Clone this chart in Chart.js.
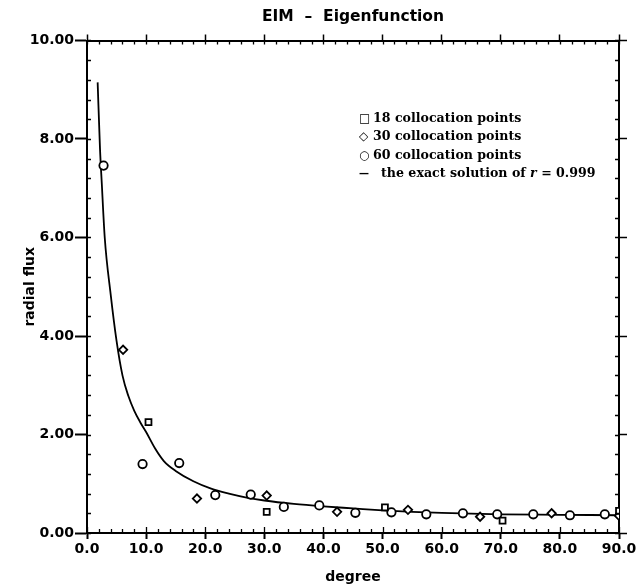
<!DOCTYPE html>
<html>
<head>
<meta charset="utf-8">
<script src="https://cdn.jsdelivr.net/npm/chart.js@4"></script>
<style>
    html, body { margin: 0; padding: 0; background: #fff; }
    #wrap { position: relative; width: 643px; height: 586px; }
    #legend {
        position: absolute; left: 359px; top: 109px;
        font-family: "DejaVu Serif", serif; font-weight: bold; font-size: 12.6px;
        color: #000; line-height: 17.3px; white-space: nowrap;
    }
    #legend .mk { display: inline-block; width: 14px; font-family: "DejaVu Sans"; font-size: 12px; }
    #legend .mk.dash { width: 22px; font-size: 10px; }
</style>
</head>
<body>
<div id="wrap">
    <canvas id="fluxChart" width="643" height="586"></canvas>
    <div id="legend"></div>
</div>
<script>
// exact solution
const exactX = [1.8, 2.2, 2.5, 3.0, 4.0, 5.0, 6.0, 7.0, 8.0, 9.0, 10.0, 11.5, 13.0, 15.0, 18.0, 21.0, 24.0, 27.0, 30.0, 35.0, 40.0, 45.0, 50.0, 55.0, 60.0, 70.0, 80.0, 90.0];
const exactY = [9.15, 7.8, 7.1, 6.0, 4.85, 3.9, 3.2, 2.78, 2.48, 2.25, 2.05, 1.72, 1.46, 1.26, 1.05, 0.9, 0.8, 0.72, 0.66, 0.59, 0.54, 0.5, 0.46, 0.43, 0.41, 0.38, 0.37, 0.36];

// 18 collocation points (squares)
const pts18X = [10.4, 30.4, 50.4, 70.3, 90.0];
const pts18Y = [2.25, 0.43, 0.52, 0.25, 0.45];

// 30 collocation points (diamonds)
const pts30X = [6.1, 18.6, 30.4, 42.3, 54.3, 66.5, 78.6, 90.0];
const pts30Y = [3.72, 0.70, 0.76, 0.43, 0.47, 0.33, 0.40, 0.35];

// 60 collocation points (circles)
const pts60X = [2.8, 9.4, 15.6, 21.7, 27.7, 33.3, 39.3, 45.4, 51.5, 57.4, 63.6, 69.4, 75.5, 81.7, 87.6];
const pts60Y = [7.46, 1.40, 1.42, 0.77, 0.78, 0.53, 0.56, 0.41, 0.42, 0.38, 0.40, 0.38, 0.38, 0.36, 0.38];

const xTicks = { min: 0, max: 90, major: 10, minor: 2 };
const yTicks = { min: 0, max: 10, major: 2, minor: 0.4 };

const chartTitle = 'EIM  \u2013  Eigenfunction';
const xTitle = 'degree';
const yTitle = 'radial flux';
const seriesLabels = ['18 collocation points', '30 collocation points', '60 collocation points', 'the exact solution of '];

function toPoints(xs, ys) {
    return xs.map(function(x, i) { return { x: x, y: ys[i] }; });
}

const tickFont = { family: 'DejaVu Sans', weight: 'bold', size: 14 };

function markerSet(style) {
    return {
        type: 'scatter',
        pointStyle: style,
        pointRadius: 4.2,
        pointBorderWidth: 1.8,
        pointBorderColor: '#000',
        pointBackgroundColor: '#fff',
        showLine: false,
    };
}

// minor ticks drawn on the inside of all four sides of the frame
const minorTicks = {
    id: 'minorTicks',
    afterDraw(chart) {
        const ctx = chart.ctx;
        const a = chart.chartArea;
        const sx = chart.scales.x, sy = chart.scales.y;
        ctx.save();
        ctx.strokeStyle = '#000';
        ctx.lineWidth = 1.3;
        ctx.beginPath();
        for (let v = xTicks.min; v <= xTicks.max + 1e-6; v += xTicks.minor) {
            const px = Math.round(sx.getPixelForValue(v)) + 0.5;
            const len = Math.abs(v % xTicks.major) < 1e-6 ? 6 : 4;
            ctx.moveTo(px, a.bottom); ctx.lineTo(px, a.bottom - len);
            ctx.moveTo(px, a.top); ctx.lineTo(px, a.top + 4);
        }
        for (let v = yTicks.min; v <= yTicks.max + 1e-6; v += yTicks.minor) {
            const py = Math.round(sy.getPixelForValue(v)) + 0.5;
            ctx.moveTo(a.left, py); ctx.lineTo(a.left + 4, py);
            ctx.moveTo(a.right, py); ctx.lineTo(a.right - 4, py);
        }
        ctx.stroke();
        ctx.restore();
    }
};

const ctx = document.getElementById('fluxChart').getContext('2d');
const fluxChart = new Chart(ctx, {
    data: {
        datasets: [
            Object.assign({ label: seriesLabels[0], data: toPoints(pts18X, pts18Y) }, markerSet('rect')),
            Object.assign({ label: seriesLabels[1], data: toPoints(pts30X, pts30Y) }, markerSet('rectRot')),
            Object.assign({ label: seriesLabels[2], data: toPoints(pts60X, pts60Y) }, markerSet('circle')),
            {
                type: 'line',
                label: seriesLabels[3],
                data: toPoints(exactX, exactY),
                borderColor: '#000',
                borderWidth: 1.8,
                pointRadius: 0,
                cubicInterpolationMode: 'monotone',
                fill: false,
            },
        ],
    },
    options: {
        responsive: false,
        animation: false,
        layout: { padding: 0 },
        plugins: {
            legend: { display: false },
            tooltip: { enabled: false },
        },
        scales: {
            x: {
                type: 'linear', position: 'bottom',
                min: xTicks.min, max: xTicks.max,
                ticks: { stepSize: xTicks.major, color: '#000', font: tickFont, padding: 2, maxRotation: 0,
                    callback: function(v) { return v.toFixed(1); } },
                grid: { drawOnChartArea: false, tickLength: 6, tickColor: '#000', tickWidth: 2 },
                border: { color: '#000', width: 2 },
                title: { display: true, text: xTitle, color: '#000', font: tickFont, padding: { top: 3, bottom: 0 } },
                afterFit: function(s) { s.height = 53; },
            },
            x2: {
                type: 'linear', position: 'top',
                min: xTicks.min, max: xTicks.max,
                ticks: { stepSize: xTicks.major, display: false },
                grid: { drawOnChartArea: false, tickLength: 6, tickColor: '#000', tickWidth: 1.5 },
                border: { color: '#000', width: 2 },
                title: { display: true, text: chartTitle, color: '#000',
                    font: { family: 'DejaVu Sans', weight: 'bold', size: 15.5 }, padding: { top: 8, bottom: 0 } },
                afterFit: function(s) { s.height = 40.5; },
            },
            y: {
                type: 'linear', position: 'left',
                min: yTicks.min, max: yTicks.max,
                ticks: { stepSize: yTicks.major, color: '#000', font: tickFont, padding: 1,
                    callback: function(v) { return v.toFixed(2); } },
                grid: { drawOnChartArea: false, tickLength: 12, tickColor: '#000', tickWidth: 2 },
                border: { color: '#000', width: 2 },
                title: { display: true, text: yTitle, color: '#000', font: tickFont, padding: { top: 22, bottom: 0 } },
                afterFit: function(s) { s.width = 87; },
            },
            y2: {
                type: 'linear', position: 'right',
                min: yTicks.min, max: yTicks.max,
                ticks: { stepSize: yTicks.major, display: false },
                grid: { drawOnChartArea: false, tickLength: 8, tickColor: '#000', tickWidth: 1.5 },
                border: { color: '#000', width: 2 },
                afterFit: function(s) { s.width = 24; },
            },
        },
    },
    plugins: [minorTicks],
});

// legend block inside the plot
const marks = ['\u25A1', '\u25C7', '\u25CB', '\u2014'];
const legend = document.getElementById('legend');
fluxChart.data.datasets.forEach(function(ds, i) {
    const row = document.createElement('div');
    const mk = document.createElement('span');
    mk.className = i === 3 ? 'mk dash' : 'mk';
    mk.textContent = marks[i];
    row.appendChild(mk);
    row.appendChild(document.createTextNode(ds.label));
    if (i === 3) {
        const r = document.createElement('i');
        r.textContent = 'r';
        row.appendChild(r);
        row.appendChild(document.createTextNode(' = 0.999'));
    }
    legend.appendChild(row);
});
</script>
</body>
</html>
